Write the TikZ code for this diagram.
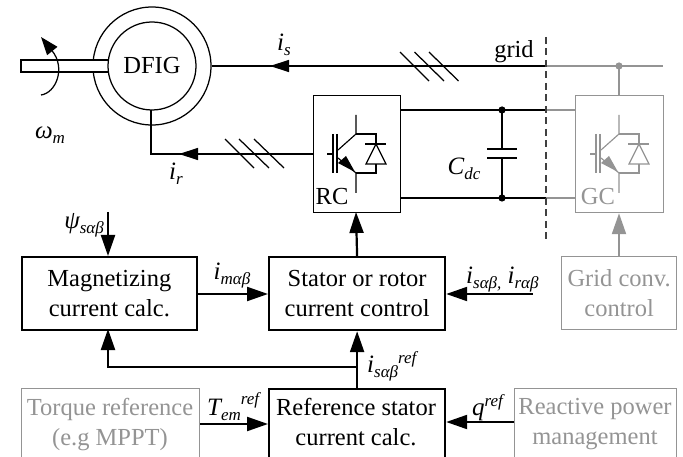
\documentclass[tikz,border=0pt]{standalone}
\usepackage{fontspec}
\setmainfont{Liberation Serif}
\usetikzlibrary{arrows.meta}
\definecolor{lg}{gray}{0.58}
\newcommand{\ssb}[1]{\raisebox{-5pt}{\fontsize{17}{19}\selectfont\itshape #1}}
\newcommand{\ssp}[2]{\raisebox{#1}{\fontsize{17}{19}\selectfont\itshape #2}}
\tikzset{
 x=1pt,y=-1pt,
 thin line/.style={line width=1.25pt},
 blockfont/.style={font=\fontsize{24.5}{30}\selectfont},
 blockbox/.style={draw,line width=2.2pt,minimum width=176pt,minimum height=73pt,align=center,blockfont,inner sep=0pt,anchor=north west},
 graybox/.style={draw=lg,text=lg,line width=1.25pt,align=center,blockfont,inner sep=0pt,anchor=north west},
 bigarrow/.style={line width=2.2pt,-{Triangle[length=21pt,width=14pt]}},
 smallarrow/.style={line width=1.3pt,-{Triangle[length=19pt,width=12pt]}},
 lab/.style={inner sep=0pt,font=\fontsize{25}{29}\selectfont\itshape},
 blocktext/.style={inner sep=0pt,align=center,blockfont,anchor=north},
}
\newcommand{\igbt}[2]{%
 \begin{scope}[shift={(#1,0)}]
  \draw[#2,line width=1.15pt] (15,154) -- (21,154);
  \draw[#2,line width=1.15pt] (21,134) -- (21,173) (25,134) -- (25,173);
  \draw[#2,line width=1.15pt] (26,150) -- (44,134) -- (44,115);
  \draw[#2,line width=1.15pt] (26,158) -- (44,173) -- (44,193);
  \fill[#2] (34,156) -- (26,163) -- (43,172) -- cycle;
  \draw[#2,line width=1.15pt] (44,134) -- (64,134) -- (64,144);
  \draw[#2,line width=1.15pt] (53,144) -- (74,144);
  \draw[#2,line width=1.15pt] (64,144) -- (54,164) -- (74,164) -- cycle;
  \draw[#2,line width=1.15pt] (64,164) -- (64,173) -- (44,173);
 \end{scope}}
\begin{document}
\begin{tikzpicture}
\useasboundingbox (0,0) rectangle (683,457);
\begin{scope}
\clip (0,0) rectangle (683,457);
% machine
\node[draw,circle,line width=1.25pt,minimum size=118pt,inner sep=0pt] (outer) at (152,66) {};
\draw[line width=1.25pt,fill=white] (108,60) -- (21,60) -- (21,72) -- (108,72);
\node[draw,circle,line width=1.25pt,minimum size=88pt,inner sep=0pt,fill=white,blockfont] (inner) at (152,66) {DFIG};
\coordinate (rotA) at (41,95);
\coordinate (rotB) at (41,37);
\draw[line width=1.25pt,-{Triangle[length=18pt,width=13pt]}] (rotA) .. controls (56,93) and (66,68) .. (rotB);
\node[lab] (wm) at (50,135) {ω\ssb{m}};
% stator line
\coordinate (gridend) at (663,66);
\coordinate (dash) at (546,66);
\coordinate (gdot) at (619,66);
\draw[thin line] (outer.east) -- (dash);
\draw[smallarrow] (300,66) -- (270,66);
\draw[thin line,lg] (dash) -- (gridend);
\draw[thin line] (400,52) -- (429,81) (414.5,52) -- (444,81) (429,52) -- (458.5,81);
\node[blockfont,inner sep=0pt] (gridlab) at (514,52) {grid};
\node[lab] (is) at (284,45) {i\ssb{s}};
% rotor line
\node[draw,thin line,minimum width=87.5pt,minimum height=117pt,inner sep=0pt,anchor=north west] (rc) at (312.5,95) {};
\coordinate (rotc) at (151,154);
\draw[thin line] (151,110) -- (rotc) -- (312.5,154);
\draw[smallarrow] (210,154) -- (179,154);
\draw[thin line] (225,139) -- (254,168) (239,139) -- (269,168) (254,139) -- (284,168);
\node[lab] (ir) at (176,174) {i\ssb{r}};
\igbt{312}{black}
\node[inner sep=0pt,blockfont] (rclab) at (332,197) {RC};
% dc link
\coordinate (ta) at (546,110);
\coordinate (tb) at (546,198);
\coordinate (tc) at (502,110);
\coordinate (bc) at (502,198);
\draw[line width=1.5pt] (rc.east |- ta) -- (ta);
\draw[thin line] (rc.east |- tb) -- (tb);
\draw[thin line,lg] (ta) -- (575,110) (tb) -- (575,198);
\draw[thin line] (tc) -- (502,149) (487,149) -- (517,149) (487,158) -- (517,158) (502,158) -- (bc);
\fill (tc) circle (3.6pt) (bc) circle (3.6pt);
\node[lab] (cdc) at (464,169) {C\ssb{dc}};
\draw[line width=1.1pt,dash pattern=on 7pt off 4.5pt,black!75] (546,37) -- (546,242);
% GC
\node[draw=lg,thin line,minimum width=88pt,minimum height=117pt,inner sep=0pt,anchor=north west] (gc) at (575,95) {};
\draw[thin line,lg] (gdot) -- (gc.north -| gdot);
\fill[lg] (gdot) circle (3.6pt);
\igbt{575}{lg}
\node[inner sep=0pt,text=lg,blockfont] (gclab) at (598,197) {GC};
% blocks
\node[blockbox,minimum width=174.5pt] (mag) at (21,256) {Magnetizing\\current calc.};
\node[blockbox] (ctl) at (268,256) {Stator or rotor\\current control};
\node[blockbox,minimum height=90pt] (ref) at (268,388) {};
\node[blocktext] (reft) at (356,398.5) {Reference stator\\current calc.};
\node[graybox,minimum width=115pt,minimum height=73pt] (grc) at (561,256) {Grid conv.\\control};
\node[graybox,minimum width=178pt,minimum height=90pt] (tq) at (21,388) {};
\node[blocktext,text=lg] (tqt) at (110,398.5) {Torque reference\\(e.g MPPT)};
\node[graybox,minimum width=162pt,minimum height=90pt] (rp) at (514,388) {};
\node[blocktext,text=lg] (rpt) at (595,398.5) {Reactive power\\management};
% control arrows
\coordinate (psi) at (108,212);
\draw[bigarrow] (psi) -- (psi |- mag.north);
\draw[bigarrow] (ctl.north) -- (356,212);
\draw[bigarrow,lg] (grc.north -| gdot) -- (gdot |- gc.south);
\draw[bigarrow] (mag.east |- 0,294) -- (ctl.west |- 0,294);
\coordinate (ifb) at (533,294);
\draw[bigarrow] (ifb) -- (ctl.east |- ifb);
\draw[bigarrow] (ref.north) -- (ctl.south);
\coordinate (br) at (356,367);
\draw[bigarrow] (br) -- (108,367) -- (108,329);
\draw[bigarrow] (tq.east |- 0,424) -- (ref.west |- 0,424);
\draw[bigarrow] (rp.west |- 0,422) -- (ref.east |- 0,422);
% labels
\node[lab,anchor=east] (psil) at (104,225) {ψ\ssb{sαβ}};
\node[lab] (im) at (232,276) {i\ssb{mαβ}};
\node[lab,anchor=west] (il) at (466,280) {i\ssb{sαβ,} i\ssb{rαβ}};
\node[lab,anchor=west] (isr) at (367,366) {i\ssb{sαβ}\ssp{9pt}{ref}};
\node[lab,anchor=west] (tem) at (207,407) {T\ssb{em}\ssp{11pt}{ref}};
\node[lab,anchor=west] (ql) at (472,408) {q\ssp{9pt}{ref}};
\end{scope}
\end{tikzpicture}
\end{document}
